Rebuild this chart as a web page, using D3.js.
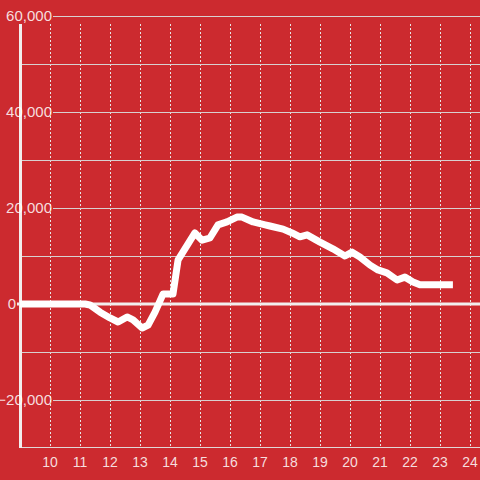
<!DOCTYPE html>
<html><head><meta charset="utf-8">
<script src="https://cdn.jsdelivr.net/npm/d3@7"></script>
<style>html,body{margin:0;padding:0;background:#cc2a2f;}svg{display:block;}</style>
</head><body>
<svg id="chart" width="480" height="480"></svg>
<script>
const hours = [9.0,11.17,11.33,11.67,12.0,12.27,12.57,12.77,13.07,13.27,13.5,13.77,14.1,14.27,14.43,14.83,15.07,15.33,15.6,15.9,16.23,16.4,16.77,17.17,17.33,17.77,18.07,18.33,18.57,19.0,19.43,19.83,20.07,20.33,20.67,20.93,21.23,21.57,21.83,22.1,22.33,23.43];
const values = [0,0,-200,-1700,-2900,-3750,-2700,-3300,-5000,-4400,-1700,2100,2100,9200,10800,14800,13300,13750,16500,17100,18100,18100,17100,16500,16250,15600,14800,14000,14400,12900,11500,10000,10800,9800,8100,7100,6500,5000,5600,4600,4000,4000];
const xTicks = [10,11,12,13,14,15,16,17,18,19,20,21,22,23,24];
const yGrid = [60000,50000,40000,30000,20000,10000,-10000,-20000];
const yLabels = [60000,40000,20000,0,-20000];

const svg = d3.select("#chart");
const W = 480, H = 480;
svg.append("rect").attr("width",W).attr("height",H).attr("fill","#cc2a2f");

const x = d3.scaleLinear().domain([9, 24.333]).range([20, 480]);
const y = d3.scaleLinear().domain([-30000, 60000]).range([448, 16]);
const fmt = d3.format(",");

// vertical dashed gridlines
svg.append("g").selectAll("line").data(xTicks).join("line")
  .attr("x1", d => x(d)).attr("x2", d => x(d))
  .attr("y1", 24).attr("y2", 447)
  .attr("stroke", "#e6e6e6").attr("stroke-width", 1)
  .attr("stroke-dasharray", "2,2")
  .attr("shape-rendering","crispEdges");

// horizontal gridlines
svg.append("g").selectAll("line").data(yGrid).join("line")
  .attr("x1", d => yLabels.includes(d) ? 53 : 20).attr("x2", 480)
  .attr("y1", d => Math.round(y(d)) + 0.5).attr("y2", d => Math.round(y(d)) + 0.5)
  .attr("stroke", "#d8d0d0").attr("stroke-width", 1);

// bottom axis line
svg.append("line").attr("x1",20).attr("x2",480)
  .attr("y1",447.5).attr("y2",447.5)
  .attr("stroke","#e0d8d8").attr("stroke-width",1);

// left axis (thick)
svg.append("line").attr("x1",20.5).attr("x2",20.5)
  .attr("y1",24).attr("y2",448)
  .attr("stroke","#f2eeee").attr("stroke-width",3);

// zero line
svg.append("line").attr("x1",17).attr("x2",480)
  .attr("y1",y(0)).attr("y2",y(0))
  .attr("stroke","#f2eeee").attr("stroke-width",3);

// y labels
svg.append("g").selectAll("text").data(yLabels).join("text")
  .attr("x", d => d === 0 ? 16 : 52)
  .attr("y", d => y(d))
  .attr("dy", "0.35em")
  .attr("text-anchor", "end")
  .attr("font-family", "Liberation Sans, Arial, sans-serif")
  .attr("font-size", 15)
  .attr("fill", "rgba(255,255,255,0.85)")
  .text(d => fmt(d));

// x labels
svg.append("g").selectAll("text").data(xTicks).join("text")
  .attr("x", d => x(d))
  .attr("y", 467)
  .attr("text-anchor", "middle")
  .attr("font-family", "Liberation Sans, Arial, sans-serif")
  .attr("font-size", 14)
  .attr("fill", "rgba(255,255,255,0.85)")
  .text(d => d);

// data line
const line = d3.line().x((d,i) => x(hours[i])).y(d => y(d));
svg.append("path").datum(values)
  .attr("d", line)
  .attr("fill", "none")
  .attr("stroke", "#ffffff")
  .attr("stroke-width", 7)
  .attr("stroke-linejoin", "round");
</script>
</body></html>
